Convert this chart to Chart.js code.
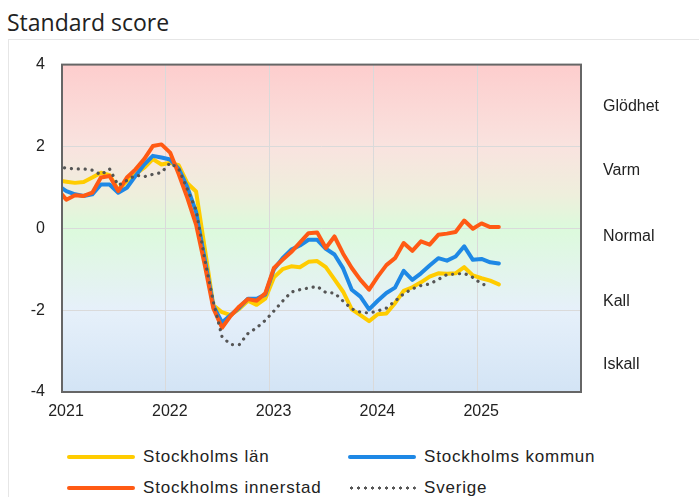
<!DOCTYPE html>
<html>
<head>
<meta charset="utf-8">
<script src="https://cdn.jsdelivr.net/npm/chart.js@4"></script>
<style>
  body { margin: 0; width: 699px; height: 497px; overflow: hidden; background: #fff; font-family: "Liberation Sans", Arial, sans-serif; }
  #frame { position: absolute; left: 8px; top: 39px; width: 720px; height: 480px; border: 1px solid #e6e6e6; }
  #sub { position: absolute; left: 7px; top: 6px; font: 23px "Open Sans", sans-serif; color: #222; }
  #wrap { position: absolute; left: 8px; top: 33px; width: 691px; height: 400px; }
  .item { position: absolute; display: flex; align-items: center; font-size: 17px; color: #222; letter-spacing: 0.8px; height: 20px; }
  .swatch { width: 68px; height: 4px; margin-right: 8px; border-radius: 2px; }
</style>
</head>
<body>
<div id="frame"></div>
<div id="sub">Standard score</div>
<div id="wrap"><canvas id="chart"></canvas></div>
<div id="legend"></div>
<script>
// monthly observations, first one (Dec 2020) sits just left of the plot and is clipped
const months = [
  '2020-12',
  '2021-01','2021-02','2021-03','2021-04','2021-05','2021-06','2021-07','2021-08','2021-09','2021-10','2021-11','2021-12',
  '2022-01','2022-02','2022-03','2022-04','2022-05','2022-06','2022-07','2022-08','2022-09','2022-10','2022-11','2022-12',
  '2023-01','2023-02','2023-03','2023-04','2023-05','2023-06','2023-07','2023-08','2023-09','2023-10','2023-11','2023-12',
  '2024-01','2024-02','2024-03','2024-04','2024-05','2024-06','2024-07','2024-08','2024-09','2024-10','2024-11','2024-12',
  '2025-01','2025-02','2025-03'
];

const stockholmsLan = [1.17, 1.14, 1.11, 1.13, 1.24, 1.36, 1.30, 0.93, 1.15, 1.32, 1.48, 1.69, 1.56,
  1.60, 1.54, 1.10, 0.90, -0.48, -1.88, -2.05, -2.12, -1.97, -1.77, -1.87, -1.72,
  -1.20, -1.00, -0.93, -0.95, -0.82, -0.80, -0.95, -1.25, -1.55, -1.98, -2.12, -2.27,
  -2.10, -2.08, -1.83, -1.53, -1.44, -1.32, -1.18, -1.10, -1.11, -1.10, -0.95, -1.15,
  -1.22, -1.28, -1.37];

const stockholmsKommun = [1.05, 0.91, 0.83, 0.79, 0.83, 1.07, 1.07, 0.87, 0.99, 1.28, 1.56, 1.77, 1.73,
  1.68, 1.45, 1.00, 0.40, -0.75, -1.90, -2.30, -2.12, -1.94, -1.72, -1.72, -1.62,
  -1.00, -0.73, -0.52, -0.42, -0.28, -0.28, -0.50, -0.64, -0.98, -1.50, -1.67, -1.98,
  -1.77, -1.58, -1.45, -1.04, -1.26, -1.10, -0.91, -0.73, -0.79, -0.69, -0.44, -0.77,
  -0.75, -0.83, -0.86];

const stockholmsInnerstad = [0.95, 0.70, 0.81, 0.79, 0.87, 1.24, 1.28, 0.91, 1.24, 1.44, 1.69, 2.01, 2.05,
  1.85, 1.32, 0.74, 0.09, -0.89, -1.96, -2.43, -2.14, -1.91, -1.73, -1.77, -1.59,
  -0.97, -0.77, -0.58, -0.35, -0.12, -0.10, -0.48, -0.20, -0.62, -0.97, -1.26, -1.50,
  -1.18, -0.90, -0.73, -0.36, -0.55, -0.32, -0.40, -0.16, -0.13, -0.09, 0.19, -0.01,
  0.12, 0.03, 0.03];

const sverige = [1.50, 1.47, 1.45, 1.45, 1.42, 1.31, 1.45, 1.05, 1.17, 1.30, 1.26, 1.32, 1.36,
  1.60, 1.45, 0.95, 0.45, -0.75, -1.80, -2.65, -2.84, -2.84, -2.57, -2.43, -2.25,
  -2.02, -1.78, -1.56, -1.50, -1.46, -1.42, -1.57, -1.58, -1.78, -1.97, -2.05, -2.07,
  -2.02, -1.95, -1.78, -1.60, -1.48, -1.40, -1.36, -1.25, -1.13, -1.12, -1.10, -1.20,
  -1.36, -1.42];

const years = ['2021', '2022', '2023', '2024', '2025'];
const yTicks = [-4, -2, 0, 2, 4];
const zones = ['Glödhet', 'Varm', 'Normal', 'Kall', 'Iskall'];
const zoneTicks = [2.97, 1.40, -0.20, -1.79, -3.34];

// month string -> position in months since Jan 2021, plotted mid-month
function monthPos(m) {
  const [y, mo] = m.split('-').map(Number);
  return (y - 2021) * 12 + (mo - 1) + 0.5;
}
function toPoints(values) {
  return values.map((v, i) => ({ x: monthPos(months[i]), y: v }));
}

const series = [
  { label: 'Stockholms län', data: stockholmsLan, color: '#ffcc00', order: 3 },
  { label: 'Stockholms kommun', data: stockholmsKommun, color: '#1e88e5', order: 2 },
  { label: 'Stockholms innerstad', data: stockholmsInnerstad, color: '#ff5a14', order: 1 },
  { label: 'Sverige', data: sverige, color: '#555555', order: 0, dotted: true }
];

const plotFrame = {
  id: 'plotFrame',
  beforeDraw(chart) {
    const { ctx, chartArea: a } = chart;
    const g = ctx.createLinearGradient(0, a.top, 0, a.bottom);
    g.addColorStop(0, '#fdcdcd');
    g.addColorStop(0.25, '#f9e3df');
    g.addColorStop(0.40, '#eeefdc');
    g.addColorStop(0.50, '#dcfadc');
    g.addColorStop(0.62, '#e2f5ea');
    g.addColorStop(0.75, '#e6f0fa');
    g.addColorStop(1, '#d3e4f5');
    ctx.save();
    ctx.fillStyle = g;
    ctx.fillRect(a.left, a.top, a.width, a.height);
    ctx.restore();
  },
  afterDraw(chart) {
    const { ctx, chartArea: a } = chart;
    ctx.save();
    ctx.strokeStyle = '#666';
    ctx.lineWidth = 2;
    ctx.strokeRect(a.left, a.top, a.width, a.height);
    ctx.restore();
  }
};

const tickFont = { family: '"Liberation Sans", Arial, sans-serif', size: 16 };

const ctx = document.getElementById('chart').getContext('2d');
new Chart(ctx, {
  type: 'line',
  data: {
    datasets: series.map(s => ({
      label: s.label,
      data: toPoints(s.data),
      borderColor: s.color,
      borderWidth: s.dotted ? 3.2 : 4,
      borderDash: s.dotted ? [0.1, 6.8] : [],
      borderCapStyle: 'round',
      borderJoinStyle: 'round',
      pointRadius: 0,
      tension: 0,
      fill: false,
      order: s.order
    }))
  },
  options: {
    responsive: true,
    maintainAspectRatio: false,
    animation: false,
    layout: { padding: { top: 17, left: 0, right: 0, bottom: 0 } },
    scales: {
      x: {
        type: 'linear',
        min: 0,
        max: 60,
        afterBuildTicks: scale => { scale.ticks = [0, 12, 24, 36, 48, 60].map(v => ({ value: v })); },
        afterFit: scale => { scale.height = 41; },
        grid: { color: '#dadada', drawTicks: false },
        border: { display: false },
        ticks: {
          font: tickFont,
          color: '#222',
          padding: 10,
          labelOffset: 4,
          maxRotation: 0,
          callback: v => years[v / 12] || ''
        }
      },
      y: {
        min: -4,
        max: 4,
        afterBuildTicks: scale => { scale.ticks = yTicks.map(v => ({ value: v })); },
        afterFit: scale => { scale.width = 54; },
        grid: { color: '#dadada', drawTicks: false },
        border: { display: false },
        ticks: { font: tickFont, color: '#222', padding: 17 }
      },
      y2: {
        position: 'right',
        min: -4,
        max: 4,
        afterBuildTicks: scale => { scale.ticks = zoneTicks.map(v => ({ value: v })); },
        afterFit: scale => { scale.width = 118; },
        grid: { display: false, drawTicks: false },
        border: { display: false },
        ticks: {
          font: tickFont,
          color: '#222',
          padding: 22,
          callback: (v, i) => zones[i]
        }
      }
    },
    plugins: {
      legend: { display: false },
      tooltip: { enabled: false }
    }
  },
  plugins: [plotFrame]
});

// legend laid out in two columns like the original
const legend = document.getElementById('legend');
const colX = [67, 348];
const rowY = [457, 488];
series.forEach((s, i) => {
  const item = document.createElement('div');
  item.className = 'item';
  item.style.left = colX[i % 2] + 'px';
  item.style.top = (rowY[Math.floor(i / 2)] - 10) + 'px';
  const sw = document.createElement('span');
  sw.className = 'swatch';
  if (s.dotted) {
    sw.style.background = 'radial-gradient(circle, ' + s.color + ' 1.4px, transparent 1.8px) 0 0 / 7px 4px repeat-x';
  } else {
    sw.style.background = s.color;
  }
  item.appendChild(sw);
  item.appendChild(document.createTextNode(s.label));
  legend.appendChild(item);
});
</script>
</body>
</html>
